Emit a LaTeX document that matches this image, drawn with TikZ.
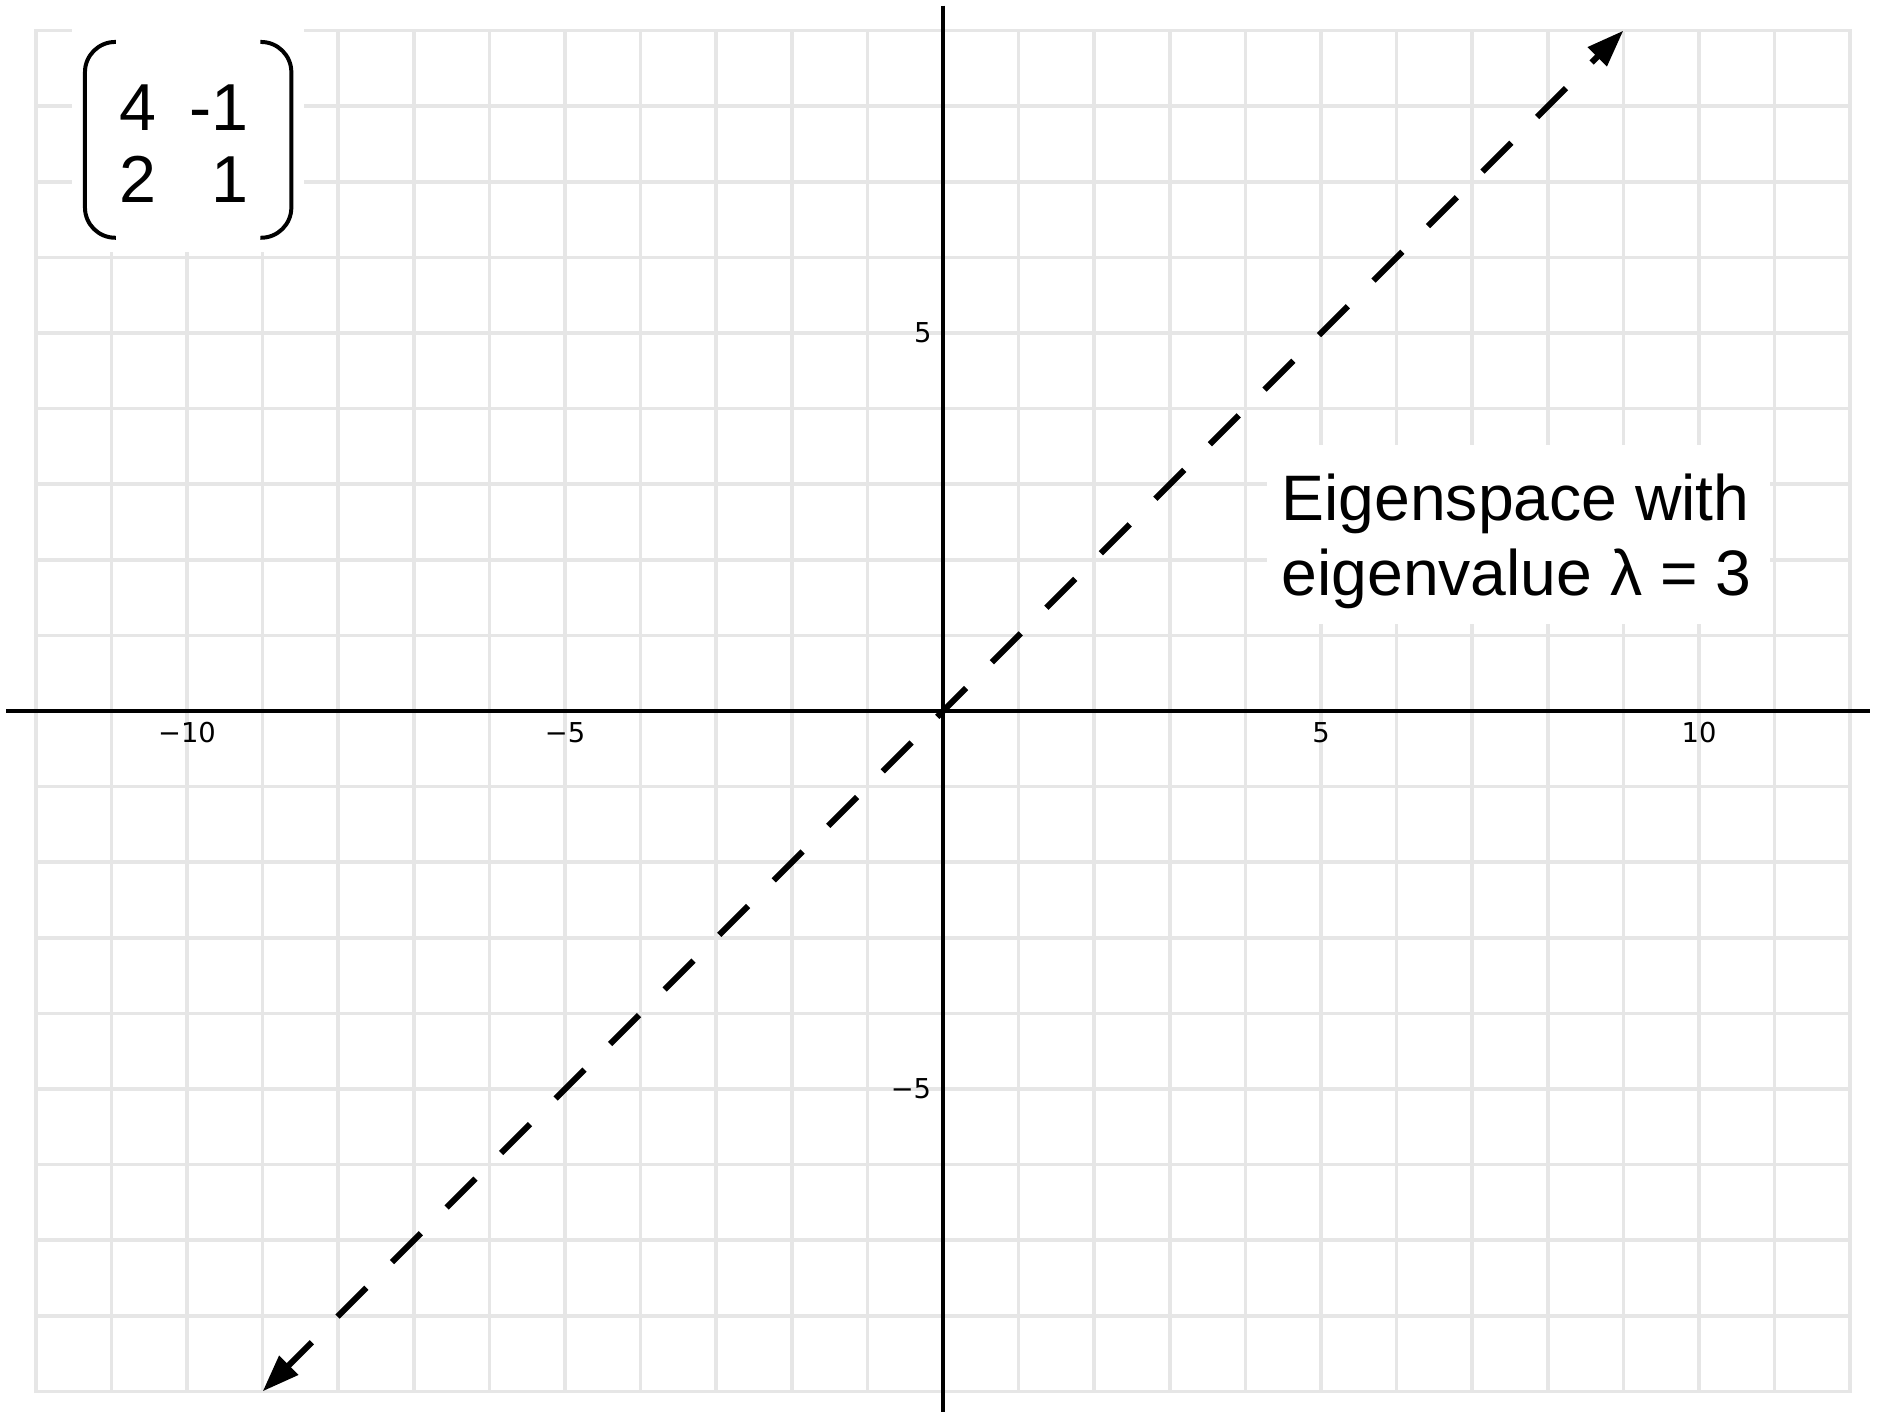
\documentclass[tikz,border=0pt]{standalone}
\usepackage{fontspec}
\setmainfont{Liberation Sans}
\newfontfamily\tickfont{DejaVu Sans}
\usetikzlibrary{arrows.meta}
\definecolor{gridgray}{HTML}{E6E6E6}
\begin{document}
\begin{tikzpicture}[x=1cm,y=1cm,
  gridline/.style={draw=gridgray, line width=1.3pt, line cap=rect},
  axisline/.style={draw=black, line width=1.5pt},
  eigline/.style={draw=black, line width=2.25pt, dash pattern=on 0.54cm off 0.48cm, dash phase=0.09cm,
    {Triangle[length=0.49cm,width=0.34cm]}-{Triangle[length=0.49cm,width=0.34cm]}},
  maskbox/.style={fill=white, draw=none},
  ticklabel/.style={font=\tickfont\fontsize{10.3}{12}\selectfont, inner sep=0pt},
  bigtext/.style={font=\fontsize{25}{27.5}\selectfont, inner sep=0pt},
  labeltext/.style={font=\fontsize{24.2}{27.9}\selectfont, inner sep=0pt},
  parenline/.style={draw=black, line width=1.5pt, rounded corners=0.4cm}]
\useasboundingbox (-12.474,-9.272) rectangle (12.434,9.405);
\fill[white] (-12.474,-9.272) rectangle (12.434,9.405);
% grid
\draw[gridline] (-12,-9) grid (12,9);
% white backgrounds behind matrix and label
\fill[maskbox] (-11.52,6.07) rectangle (-8.45,9.405);
\fill[maskbox] (4.29,1.15) rectangle (10.94,3.52);
% axes
\draw[axisline] (-12.39,0) -- (12.26,0);
\draw[axisline] (0,9.33) -- (0,-9.3);
% tick labels
\node[ticklabel, anchor=base] (xtm10) at (-10,-0.423) {−10};
\node[ticklabel, anchor=base] (xtm5) at (-5,-0.423) {−5};
\node[ticklabel, anchor=base] (xt5) at (5,-0.423) {5};
\node[ticklabel, anchor=base] (xt10) at (10,-0.423) {10};
\node[ticklabel, anchor=base east] (yt5) at (-0.146,4.875) {5};
\node[ticklabel, anchor=base east] (ytm5) at (-0.15,-5.125) {−5};
% matrix
\node[bigtext, anchor=base] (m11) at (-10.65,7.685) {4};
\node[bigtext, anchor=base east] (m12) at (-9.18,7.685) {-1};
\node[bigtext, anchor=base] (m21) at (-10.65,6.733) {2};
\node[bigtext, anchor=base east] (m22) at (-9.18,6.733) {1};
\draw[parenline] (-10.94,8.85) -- (-11.35,8.85) -- (-11.35,6.26) -- (-10.94,6.26);
\draw[parenline] (-9.03,8.85) -- (-8.62,8.85) -- (-8.62,6.26) -- (-9.03,6.26);
% eigenspace line
\coordinate (lo) at (-9,-9);
\coordinate (hi) at (9,9);
\draw[eigline] (lo) -- (hi);
% label
\node[labeltext, anchor=base west, align=left] (lab) at (4.47,1.534) {Eigenspace with\\eigenvalue λ = 3};
\end{tikzpicture}
\end{document}
